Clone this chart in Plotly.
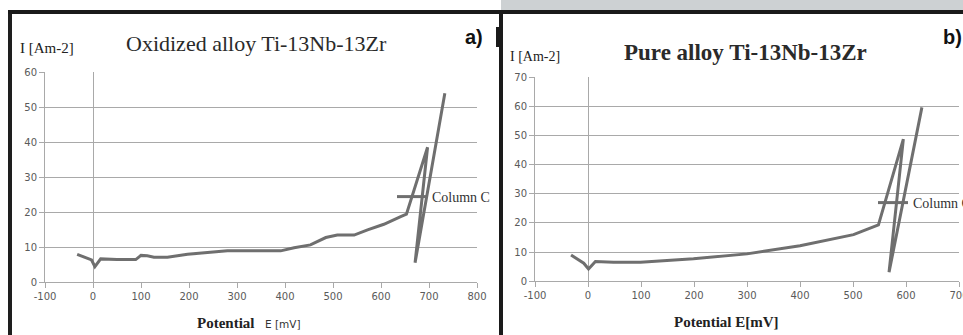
import plotly.graph_objects as go

W, H = 963, 335

# ---- data ----
E_oxidized = [-33, -3, 4, 16, 50, 89, 100, 113, 127, 155, 197, 238, 280, 391, 419, 453,
              485, 509, 544, 572, 606, 641, 653, 697, 671, 733]
I_oxidized = [7.9, 6.3, 4.4, 6.6, 6.4, 6.4, 7.6, 7.5, 7.1, 7.1, 7.9, 8.4, 8.9, 8.9, 9.8, 10.6,
              12.7, 13.4, 13.4, 14.9, 16.5, 18.7, 19.4, 38.5, 5.5, 53.9]

E_pure = [-32, -8, 1, 14, 48, 99, 199, 300, 400, 501, 548, 595, 568, 630]
I_pure = [9.0, 6.2, 4.2, 6.8, 6.5, 6.5, 7.7, 9.4, 12.2, 16.0, 19.3, 48.7, 3.1, 59.6]

x_ticks_a = [-100, 0, 100, 200, 300, 400, 500, 600, 700, 800]
y_ticks_a = [0, 10, 20, 30, 40, 50, 60]
x_ticks_b = [-100, 0, 100, 200, 300, 400, 500, 600, 700]
y_ticks_b = [0, 10, 20, 30, 40, 50, 60, 70]

series_name = "Column C"
title_a = "Oxidized alloy Ti-13Nb-13Zr"
title_b = "Pure alloy Ti-13Nb-13Zr"
y_label = "I [Am-2]"


def px(x):
    return x / W


def py(y):
    return 1 - y / H


GRID = "#a9a9a9"
LINE = "#6f6f6f"
TICKFONT = dict(family="DejaVu Sans", size=10, color="#5a5a5a")

fig = go.Figure()
fig.add_trace(go.Scatter(x=E_oxidized, y=I_oxidized, mode="lines", name=series_name,
                         line=dict(color=LINE, width=3), xaxis="x", yaxis="y", legend="legend"))
fig.add_trace(go.Scatter(x=E_pure, y=I_pure, mode="lines", name=series_name,
                         line=dict(color=LINE, width=3), xaxis="x2", yaxis="y2", legend="legend2"))

axis_common = dict(showline=True, linecolor=GRID, linewidth=1, ticks="outside", ticklen=5,
                   tickcolor=GRID, tickfont=TICKFONT, fixedrange=True, automargin=False,
                   ticklabeloverflow="allow")

fig.update_layout(
    width=W, height=H,
    margin=dict(l=0, r=0, t=0, b=0, autoexpand=False),
    paper_bgcolor="white", plot_bgcolor="white",
    showlegend=True,
    xaxis=dict(domain=[px(45), px(477)], range=[-100, 800], tickvals=x_ticks_a,
               ticktext=[str(v) for v in x_ticks_a], anchor="y",
               showgrid=False, zeroline=True, zerolinecolor=GRID, zerolinewidth=1, **axis_common),
    yaxis=dict(domain=[py(282), py(72)], range=[0, 60], tickvals=y_ticks_a, anchor="x",
               showgrid=True, gridcolor=GRID, gridwidth=1, zeroline=False, **axis_common),
    xaxis2=dict(domain=[px(535), px(959)], range=[-100, 700], tickvals=x_ticks_b,
                ticktext=[str(v) for v in x_ticks_b], anchor="y2",
                showgrid=False, zeroline=True, zerolinecolor=GRID, zerolinewidth=1, **axis_common),
    yaxis2=dict(domain=[py(281.3), py(77)], range=[0, 70], tickvals=y_ticks_b, anchor="x2",
                showgrid=True, gridcolor=GRID, gridwidth=1, zeroline=False, **axis_common),
    legend=dict(x=px(392), y=py(197), xanchor="left", yanchor="middle", bgcolor="rgba(0,0,0,0)",
                font=dict(family="Liberation Serif", size=14, color="#333"), itemwidth=30),
    legend2=dict(x=px(873), y=py(203), xanchor="left", yanchor="middle", bgcolor="rgba(0,0,0,0)",
                 font=dict(family="Liberation Serif", size=14, color="#333"), itemwidth=30),
)

ann = []
# panel a texts
ann.append(dict(text=title_a, x=px(256), y=py(43), font=dict(family="Liberation Serif", size=22, color="#2a2a2a")))
ann.append(dict(text="<b>a)</b>", x=px(474), y=py(37), font=dict(family="Liberation Sans", size=20, color="#111")))
ann.append(dict(text=y_label, x=px(18), y=py(48), xanchor="left", font=dict(family="Liberation Serif", size=15, color="#222")))
ann.append(dict(text="<b>Potential</b>", x=px(226), y=py(323), font=dict(family="Liberation Serif", size=15, color="#222")))
ann.append(dict(text="E [mV]", x=px(263), y=py(324), xanchor="left", font=dict(family="DejaVu Sans", size=10.5, color="#333")))
# panel b texts
ann.append(dict(text="<b>" + title_b + "</b>", x=px(745), y=py(52), font=dict(family="Liberation Serif", size=23, color="#2a2a2a")))
ann.append(dict(text="<b>b)</b>", x=px(952), y=py(37), font=dict(family="Liberation Sans", size=20, color="#111")))
ann.append(dict(text=y_label, x=px(508), y=py(57), xanchor="left", font=dict(family="Liberation Serif", size=14, color="#222")))
ann.append(dict(text="<b>Potential E[mV]</b>", x=px(726), y=py(322), font=dict(family="Liberation Serif", size=15, color="#222")))
for a in ann:
    a.update(xref="paper", yref="paper", showarrow=False)
    a.setdefault("xanchor", "center")
    a.setdefault("yanchor", "middle")
fig.update_layout(annotations=ann)

shapes = [
    dict(type="rect", x0=px(501), x1=1, y0=py(0), y1=py(10), fillcolor="#cdd1d3", line_width=0),
    dict(type="rect", x0=px(8), x1=px(12), y0=0, y1=py(10), fillcolor="#1e1e1e", line_width=0),
    dict(type="rect", x0=px(8), x1=1, y0=py(14), y1=py(10), fillcolor="#1a1a1a", line_width=0),
    dict(type="rect", x0=px(499), x1=px(503), y0=0, y1=py(10), fillcolor="#1a1a1a", line_width=0),
    dict(type="rect", x0=px(496), x1=px(500), y0=py(47), y1=py(27), fillcolor="#1a1a1a", line_width=0),
]
for s in shapes:
    s.update(xref="paper", yref="paper", layer="above")
fig.update_layout(shapes=shapes)

fig.write_html("out.html", config={"displayModeBar": False},
               post_script="document.body.style.margin='0';document.body.style.overflow='hidden';")
